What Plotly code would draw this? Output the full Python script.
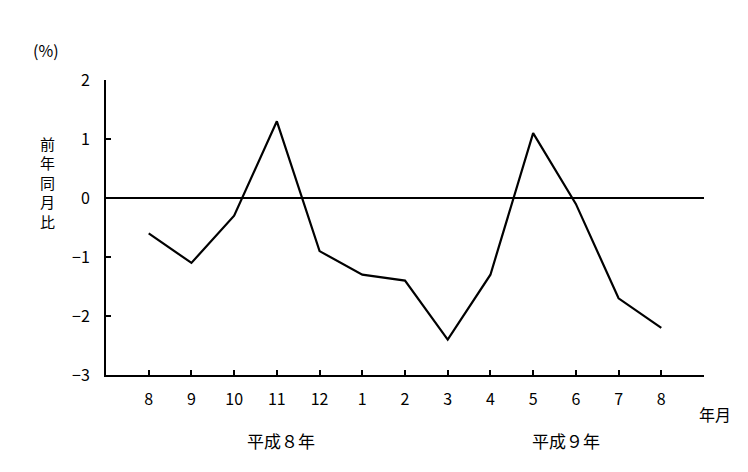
import plotly.graph_objects as go

months = ["8", "9", "10", "11", "12", "1", "2", "3", "4", "5", "6", "7", "8"]
values = [-0.6, -1.1, -0.3, 1.3, -0.9, -1.3, -1.4, -2.4, -1.3, 1.1, -0.1, -1.7, -2.2]
y_ticks = [-3, -2, -1, 0, 1, 2]
y_tick_labels = ["−3", "−2", "−1", "0", "1", "2"]
y_title_chars = ["前", "年", "同", "月", "比"]

FONT = "Noto Sans CJK JP"
x_idx = list(range(len(months)))

# page offset compensation (body margin)
DX, DY = 7, 8
L, R, T, B = 105 - DX, 748 - 703 + DX, 80 - DY, 472 - 375 + DY

fig = go.Figure()
fig.add_trace(go.Scatter(
    x=x_idx, y=values, mode="lines",
    line=dict(color="black", width=2.2),
    showlegend=False, hoverinfo="skip",
))

fig.update_layout(
    width=748, height=472,
    margin=dict(l=L, r=R, t=T, b=B),
    paper_bgcolor="white", plot_bgcolor="white",
    font=dict(family=FONT, size=16, color="black"),
    xaxis=dict(
        range=[-1, 13], tickmode="array", tickvals=x_idx, ticktext=months,
        showgrid=False, zeroline=False, showline=True, linecolor="black", linewidth=2,
        ticks="inside", ticklen=5, tickwidth=2, tickcolor="black",
        ticklabelstandoff=9, tickfont=dict(size=16),
    ),
    yaxis=dict(
        range=[-3, 2], tickmode="array", tickvals=y_ticks, ticktext=y_tick_labels,
        showgrid=False, zeroline=True, zerolinecolor="black", zerolinewidth=2,
        showline=True, linecolor="black", linewidth=2,
        ticks="inside", ticklen=5, tickwidth=2, tickcolor="black",
        ticklabelstandoff=11, tickfont=dict(size=16),
    ),
)

W, H = 748 - L - R, 472 - T - B
def px(x, y):
    return ((x - DX - L) / W, (472 - B - (y - DY)) / H)

texts = ["(%)", "年月", "平成８年", "平成９年"]
pos = [(45, 50), (714, 414), (280, 440), (565, 440)]
sizes = [16, 16, 17, 17]
for t, (x, y), s in zip(texts, pos, sizes):
    ax, ay = px(x, y)
    fig.add_annotation(text=t, x=ax, y=ay, xref="paper", yref="paper",
                       xanchor="center", yanchor="middle", showarrow=False,
                       font=dict(size=s))

# vertical title, one character per line
for i, ch in enumerate(y_title_chars):
    ax, ay = px(46, 143 + i * 19.5)
    fig.add_annotation(text=ch, x=ax, y=ay, xref="paper", yref="paper",
                       xanchor="center", yanchor="middle", showarrow=False,
                       borderpad=0, font=dict(size=15))

fig.write_html("out.html")
